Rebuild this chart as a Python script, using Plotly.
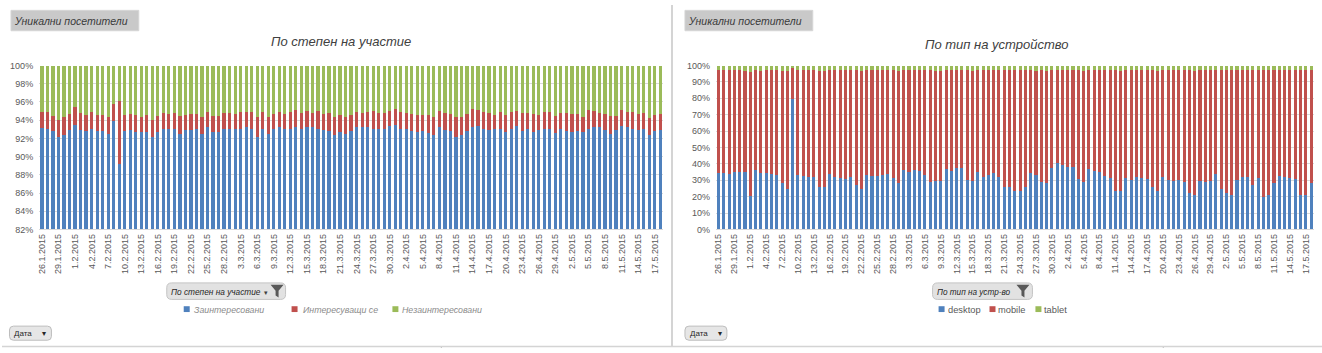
import pandas as pd
import plotly.graph_objects as go

W, H = 1322, 353

dates = [f"{d.day}.{d.month}.{d.year}" for d in pd.date_range("2015-01-26", "2015-05-18", freq="D")]

# --- Left chart: По степен на участие (shares, %) ---
zaint = [93.1,93.0,92.8,92.15,92.4,92.9,93.45,92.9,92.8,93.05,
 92.8,92.8,92.45,93.9,89.2,92.8,92.9,92.65,92.7,92.7,
 92.15,92.65,93.05,93.0,93.05,92.45,92.9,92.9,93.05,92.45,
 93.2,92.7,92.7,93.0,93.0,93.0,93.05,93.3,93.05,92.2,
 93.05,92.45,93.0,93.2,93.05,93.05,93.3,93.0,93.2,93.3,
 93.05,92.9,92.8,92.35,92.7,92.45,92.8,93.2,93.2,93.25,
 93.05,93.05,93.05,93.4,93.5,93.05,93.0,92.8,92.7,92.8,
 92.55,92.4,93.3,92.9,92.8,92.2,92.4,92.8,93.3,93.4,
 93.05,92.9,93.0,93.05,92.7,93.05,93.4,92.8,93.0,92.7,
 92.9,93.05,93.05,92.55,93.05,92.8,92.7,92.8,92.7,93.05,
 93.2,93.2,92.9,92.45,92.9,93.4,93.2,93.05,92.9,93.05,
 92.35,92.8,92.9]
interes = [1.8,1.9,1.65,1.9,2.0,1.8,2.0,1.9,1.8,1.85,
 1.8,1.8,1.95,1.9,6.9,1.8,1.8,1.95,1.7,1.9,
 1.9,1.85,1.75,1.7,1.75,2.05,1.7,1.8,1.65,1.85,
 1.7,1.8,1.8,1.8,1.8,1.7,1.85,1.6,1.85,2.1,
 1.85,1.95,1.7,1.7,1.65,1.85,1.8,1.8,1.8,1.5,
 1.95,1.8,2.0,1.95,1.9,1.95,1.8,1.7,1.6,1.65,
 1.95,1.75,1.75,1.6,1.7,1.85,1.8,1.9,1.9,1.8,
 2.05,1.9,1.7,1.9,1.9,2.1,2.0,1.9,1.9,1.7,
 1.85,1.9,1.6,1.85,1.9,1.85,1.6,2.0,1.8,2.0,
 1.7,1.85,1.85,1.95,1.75,2.0,2.0,1.9,1.7,2.05,
 1.8,1.6,1.8,2.05,1.6,1.7,1.7,1.85,1.8,1.75,
 1.85,1.8,1.8]
nezaint = [5.1,5.1,5.55,5.95,5.6,5.3,4.55,5.2,5.4,5.1,
 5.4,5.4,5.6,4.2,3.9,5.4,5.3,5.4,5.6,5.4,
 5.95,5.5,5.2,5.3,5.2,5.5,5.4,5.3,5.3,5.7,
 5.1,5.5,5.5,5.2,5.2,5.3,5.1,5.1,5.1,5.7,
 5.1,5.6,5.3,5.1,5.3,5.1,4.9,5.2,5.0,5.2,
 5.0,5.3,5.2,5.7,5.4,5.6,5.4,5.1,5.2,5.1,
 5.0,5.2,5.2,5.0,4.8,5.1,5.2,5.3,5.4,5.4,
 5.4,5.7,5.0,5.2,5.3,5.7,5.6,5.3,4.8,4.9,
 5.1,5.2,5.4,5.1,5.4,5.1,5.0,5.2,5.2,5.3,
 5.4,5.1,5.1,5.5,5.2,5.2,5.3,5.3,5.6,4.9,
 5.0,5.2,5.3,5.5,5.5,4.9,5.1,5.1,5.3,5.2,
 5.8,5.4,5.3]

# --- Right chart: По тип на устройство (shares, %) ---
desktop = [34.4,34.4,33.8,35.2,35.2,35.2,20.2,36.4,34.4,34.4,
 33.8,33.2,28.1,24.5,79.4,33.2,32.8,32.0,32.0,26.1,
 25.7,34.0,32.0,31.6,30.8,32.0,26.9,24.5,33.2,32.8,
 32.8,33.2,34.0,31.6,28.1,36.4,35.2,36.4,35.6,33.2,
 29.2,29.6,29.6,36.8,35.6,37.5,37.5,30.4,29.6,35.2,
 32.0,33.2,34.4,32.0,26.1,26.1,23.3,23.7,25.7,34.4,
 33.2,29.2,28.5,37.5,40.7,39.1,37.9,37.9,30.8,29.2,
 36.8,35.6,35.2,32.8,31.6,23.7,23.3,31.6,30.4,32.0,
 31.6,30.8,26.1,23.3,32.0,30.4,29.6,30.4,29.2,22.5,
 21.3,29.6,29.2,29.6,34.0,24.5,22.1,20.9,30.4,32.0,
 32.0,26.9,31.6,19.8,20.9,28.5,32.8,32.0,31.6,30.8,
 20.9,20.9,28.1]
mobile = [62.8,62.8,63.4,62.0,62.0,61.6,75.8,60.8,62.4,62.8,
 63.4,64.0,68.7,72.3,19.0,64.0,64.4,65.2,65.2,70.7,
 71.1,63.2,65.2,65.6,66.4,65.2,70.3,72.3,64.0,64.4,
 64.4,64.0,63.2,65.6,68.7,60.8,62.0,60.8,61.6,64.0,
 68.0,67.2,67.2,60.4,61.6,59.7,59.7,66.8,67.2,62.0,
 65.2,64.0,62.8,65.2,71.1,71.1,73.9,73.5,71.5,62.8,
 63.6,68.0,68.3,59.7,56.5,58.1,59.3,59.3,66.4,67.6,
 60.4,61.6,62.0,64.4,65.6,73.5,73.5,65.6,66.8,65.2,
 65.6,66.4,71.1,73.5,65.2,66.8,67.6,66.8,68.0,74.7,
 75.5,67.6,68.0,67.6,63.2,72.7,75.1,76.3,66.8,65.2,
 65.2,70.3,65.6,77.4,76.3,68.7,64.4,65.2,65.6,66.4,
 76.3,76.3,69.1]
tablet = [2.8,2.8,2.8,2.8,2.8,3.2,4.0,2.8,3.2,2.8,
 2.8,2.8,3.2,3.2,1.6,2.8,2.8,2.8,2.8,3.2,
 3.2,2.8,2.8,2.8,2.8,2.8,2.8,3.2,2.8,2.8,
 2.8,2.8,2.8,2.8,3.2,2.8,2.8,2.8,2.8,2.8,
 2.8,3.2,3.2,2.8,2.8,2.8,2.8,2.8,3.2,2.8,
 2.8,2.8,2.8,2.8,2.8,2.8,2.8,2.8,2.8,2.8,
 3.2,2.8,3.2,2.8,2.8,2.8,2.8,2.8,2.8,3.2,
 2.8,2.8,2.8,2.8,2.8,2.8,3.2,2.8,2.8,2.8,
 2.8,2.8,2.8,3.2,2.8,2.8,2.8,2.8,2.8,2.8,
 3.2,2.8,2.8,2.8,2.8,2.8,2.8,2.8,2.8,2.8,
 2.8,2.8,2.8,2.8,2.8,2.8,2.8,2.8,2.8,2.8,
 2.8,2.8,2.8]

left_names = ["Заинтересовани", "Интересуващи се", "Незаинтересовани"]
right_names = ["desktop", "mobile", "tablet"]
left_ticks = [82, 84, 86, 88, 90, 92, 94, 96, 98, 100]
right_ticks = [0, 10, 20, 30, 40, 50, 60, 70, 80, 90, 100]
left_ticktext = [f"{v}%" for v in left_ticks]
right_ticktext = [f"{v}%" for v in right_ticks]

BLUE, RED, GREEN = "#4F81BD", "#C0504D", "#9BBB59"
FONT = "Liberation Sans, Arial, sans-serif"

def X(px):
    return px / W

def Y(py):
    return 1 - py / H

fig = go.Figure()
for vals, name, col in zip([zaint, interes, nezaint], left_names, [BLUE, RED, GREEN]):
    fig.add_trace(go.Bar(x=dates, y=vals, name=name, marker_color=col,
                         marker_line_width=0, xaxis="x", yaxis="y", showlegend=False))
for vals, name, col in zip([desktop, mobile, tablet], right_names, [BLUE, RED, GREEN]):
    fig.add_trace(go.Bar(x=dates, y=vals, name=name, marker_color=col,
                         marker_line_width=0, xaxis="x2", yaxis="y2", showlegend=False))

tick_font = dict(family=FONT, size=9, color="#595959")
xcommon = dict(type="category", tickangle=-90, tickvals=dates[::3], tickfont=tick_font,
               showgrid=False, showline=True, linecolor="#d9d9d9", linewidth=1,
               ticks="", fixedrange=True, range=[-0.5, len(dates) - 0.5])
ycommon = dict(showgrid=True, gridcolor="#d9d9d9", gridwidth=1, zeroline=False,
               tickfont=tick_font, ticks="", fixedrange=True, ticklabelstandoff=5)

ydom = [Y(231), Y(62.3)]
fig.update_layout(
    width=W, height=H, margin=dict(l=0, r=0, t=0, b=0),
    paper_bgcolor="white", plot_bgcolor="white",
    barmode="stack", bargap=0.42,
    font=dict(family=FONT),
    xaxis=dict(domain=[X(37.2), X(662.0)], anchor="y", **xcommon),
    yaxis=dict(domain=ydom, anchor="x", range=[82, 100], tickvals=left_ticks,
               ticktext=left_ticktext, **ycommon),
    xaxis2=dict(domain=[X(715.0), X(1313.7)], anchor="y2", **xcommon),
    yaxis2=dict(domain=ydom, anchor="x2", range=[0, 100], tickvals=right_ticks,
                ticktext=right_ticktext, **ycommon),
)

shapes = []
annotations = []

def rrect(x0, y0, x1, y1, r, fill, line):
    p = (f"M{X(x0+r)},{Y(y0)} L{X(x1-r)},{Y(y0)} Q{X(x1)},{Y(y0)} {X(x1)},{Y(y0+r)} "
         f"L{X(x1)},{Y(y1-r)} Q{X(x1)},{Y(y1)} {X(x1-r)},{Y(y1)} "
         f"L{X(x0+r)},{Y(y1)} Q{X(x0)},{Y(y1)} {X(x0)},{Y(y1-r)} "
         f"L{X(x0)},{Y(y0+r)} Q{X(x0)},{Y(y0)} {X(x0+r)},{Y(y0)} Z")
    shapes.append(dict(type="path", path=p, xref="paper", yref="paper",
                       fillcolor=fill, line=dict(color=line, width=1)))

def text(px, py, s, size, color, italic=False, anchor="left"):
    annotations.append(dict(x=X(px), y=Y(py), xref="paper", yref="paper", text=s,
                            showarrow=False, xanchor=anchor, yanchor="middle",
                            font=dict(family=FONT, size=size, color=color,
                                      style="italic" if italic else "normal")))

def funnel(x0, y0):
    pts = [(x0, y0), (x0 + 13, y0), (x0 + 8, y0 + 6), (x0 + 8, y0 + 13),
           (x0 + 5, y0 + 11), (x0 + 5, y0 + 6)]
    p = "M" + " L".join(f"{X(a)},{Y(b)}" for a, b in pts) + " Z"
    shapes.append(dict(type="path", path=p, xref="paper", yref="paper",
                       fillcolor="#595959", line=dict(width=0)))

# panel separators
shapes.append(dict(type="line", xref="paper", yref="paper", x0=X(671), x1=X(671), y0=Y(0), y1=Y(351),
                   line=dict(color="#d4d4d4", width=2)))
shapes.append(dict(type="line", xref="paper", yref="paper", x0=0, x1=1, y0=Y(351.5), y1=Y(351.5),
                   line=dict(color="#d4d4d4", width=1.5)))
for xx in (440, 1163):
    shapes.append(dict(type="line", xref="paper", yref="paper", x0=X(xx), x1=X(xx), y0=Y(352), y1=Y(353),
                       line=dict(color="#bfbfbf", width=1)))

# header boxes "Уникални посетители"
for x0, x1 in ((9, 137), (684, 812)):
    shapes.append(dict(type="rect", xref="paper", yref="paper", x0=X(x0), x1=X(x1), y0=Y(26.5), y1=Y(5.5),
                       fillcolor="#c9c9c9", line=dict(color="#d6d6d6", width=1)))
    text(x0 + 1.5, 16.5, "Уникални посетители", 10.5, "#3a3a3a", italic=True)

# chart titles
text(340, 38, "По степен на участие", 13, "#404040", italic=True, anchor="center")
text(997, 41, "По тип на устройство", 13, "#404040", italic=True, anchor="center")

# filter buttons
rrect(165, 286, 284, 303, 5, "#e2e2e2", "#c4c4c4")
text(167, 295.5, "По степен на участие", 8.3, "#262626", italic=True)
text(260, 296, "▾", 7, "#404040")
funnel(269, 288)
rrect(932, 286, 1032, 303, 5, "#e2e2e2", "#c4c4c4")
text(934, 295.5, "По тип на устр-во", 8.2, "#262626", italic=True)
funnel(1016, 288)

# legends
for (sx, tx), name, col in zip([(182, 190), (290, 299), (391, 399)], left_names, [BLUE, RED, GREEN]):
    shapes.append(dict(type="rect", xref="paper", yref="paper", x0=X(sx), x1=X(sx + 6),
                       y0=Y(316), y1=Y(310), fillcolor=col, line=dict(width=0)))
    text(tx, 313.5, name, 8.8, "#8c8c8c", italic=True)
for (sx, tx), name, col in zip([(938, 945), (989, 996), (1035, 1042)], right_names, [BLUE, RED, GREEN]):
    shapes.append(dict(type="rect", xref="paper", yref="paper", x0=X(sx), x1=X(sx + 6),
                       y0=Y(316), y1=Y(310), fillcolor=col, line=dict(width=0)))
    text(tx, 313.5, name, 9.3, "#595959")

# "Дата" buttons
for x0 in (7.5, 684):
    rrect(x0, 330.5, x0 + 42, 345, 4, "#e6e6e6", "#bdbdbd")
    text(x0 + 3, 338, "Дата", 8, "#262626")
    text(x0 + 31, 338.5, "▾", 8, "#262626")

fig.update_layout(shapes=shapes, annotations=annotations)
fig.write_html("out.html")
